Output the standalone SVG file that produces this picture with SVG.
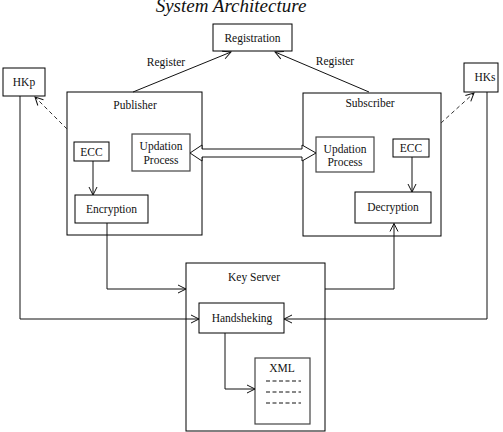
<svg xmlns="http://www.w3.org/2000/svg" width="503" height="432" viewBox="0 0 503 432">
<style>
.box{fill:#fff;stroke:#000;stroke-width:1}
.frame{fill:none;stroke:#000;stroke-width:1}
.in{fill:#fff;stroke:#444;stroke-width:1.2}
.t{font-family:"Liberation Serif","Times New Roman",serif;font-size:11.5px;fill:#111;text-anchor:middle}
.ln{fill:none;stroke:#111;stroke-width:1}
.dash{fill:none;stroke:#333;stroke-width:1;stroke-dasharray:4,3}
</style>
<defs>
<marker id="oa" markerWidth="10" markerHeight="10" refX="9" refY="5" orient="auto" markerUnits="userSpaceOnUse">
<path d="M1,1 L9,5 L1,9" fill="none" stroke="#111" stroke-width="1"/>
</marker>
</defs>
<rect width="503" height="432" fill="#fff"/>
<text x="231" y="12" style="font-family:'Liberation Serif','Times New Roman',serif;font-size:19px;font-style:italic;fill:#111" text-anchor="middle">System Architecture</text>

<g id="registration">
<rect class="box" x="213" y="24" width="79" height="27"/>
<text class="t" x="252.5" y="42">Registration</text>
</g>
<g id="hkp">
<rect class="box" x="3" y="68" width="42" height="28"/>
<text class="t" x="24" y="86">HKp</text>
</g>
<g id="hks">
<rect class="box" x="464" y="63" width="34" height="29"/>
<text class="t" x="485" y="81">HKs</text>
</g>

<g id="publisher">
<rect class="frame" x="67" y="92" width="135" height="143"/>
<text class="t" x="135" y="109">Publisher</text>
</g>
<g id="pub-ecc">
<rect class="box" x="74" y="142" width="35" height="19"/>
<text class="t" x="91.5" y="155.5">ECC</text>
</g>
<g id="pub-updation">
<rect class="in" x="132" y="134" width="58" height="37"/>
<text class="t" x="161" y="150">Updation</text>
<text class="t" x="161" y="164">Process</text>
</g>
<g id="encryption">
<rect class="box" x="75" y="195" width="73" height="28"/>
<text class="t" x="111.5" y="213">Encryption</text>
</g>

<g id="subscriber">
<rect class="frame" x="303" y="93" width="138" height="143"/>
<text class="t" x="370" y="107">Subscriber</text>
</g>
<g id="sub-updation">
<rect class="in" x="316" y="137" width="58" height="35"/>
<text class="t" x="345" y="153">Updation</text>
<text class="t" x="345" y="166">Process</text>
</g>
<g id="sub-ecc">
<rect class="box" x="393" y="139" width="36" height="18"/>
<text class="t" x="411" y="152">ECC</text>
</g>
<g id="decryption">
<rect class="box" x="355" y="192" width="76" height="31"/>
<text class="t" x="393" y="211">Decryption</text>
</g>

<g id="keyserver">
<rect class="frame" x="186" y="263" width="139" height="168"/>
<text class="t" x="254" y="281">Key Server</text>
</g>
<g id="handsheking">
<rect class="box" x="199" y="303" width="85" height="30"/>
<text class="t" x="242" y="322">Handsheking</text>
</g>
<g id="xml">
<rect class="in" x="255" y="358" width="55" height="66"/>
<text class="t" x="282" y="372">XML</text>
<g class="ln" stroke-dasharray="4,2.5">
<line x1="266" y1="381" x2="301" y2="381"/>
<line x1="266" y1="392" x2="301" y2="392"/>
<line x1="266" y1="403" x2="301" y2="403"/>
</g>
</g>

<g id="connectors">
<line class="ln" x1="133" y1="92" x2="231" y2="52" marker-end="url(#oa)"/>
<line class="ln" x1="369" y1="92" x2="275" y2="52" marker-end="url(#oa)"/>
<text class="t" x="166" y="66">Register</text>
<text class="t" x="335" y="65">Register</text>
<line class="dash" x1="67" y1="129" x2="35" y2="97" marker-end="url(#oa)"/>
<line class="dash" x1="441" y1="123" x2="474" y2="93" marker-end="url(#oa)"/>
<polygon points="190,153 202,145 202,149 302,149 302,145 316,153 302,161 302,157 202,157 202,161" fill="#fff" stroke="#111" stroke-width="1"/>
<polyline class="ln" points="107,223 107,289 186,289" marker-end="url(#oa)"/>
<polyline class="ln" points="325,289 394,289 394,223.5" marker-end="url(#oa)"/>
<polyline class="ln" points="20,96 20,319 199,319" marker-end="url(#oa)"/>
<polyline class="ln" points="487,92 487,319 284,319" marker-end="url(#oa)"/>
<line class="ln" x1="93" y1="161" x2="93" y2="195" marker-end="url(#oa)"/>
<line class="ln" x1="412" y1="157" x2="412" y2="192" marker-end="url(#oa)"/>
<polyline class="ln" points="225,333 225,389 255,389" marker-end="url(#oa)"/>
</g>
</svg>
